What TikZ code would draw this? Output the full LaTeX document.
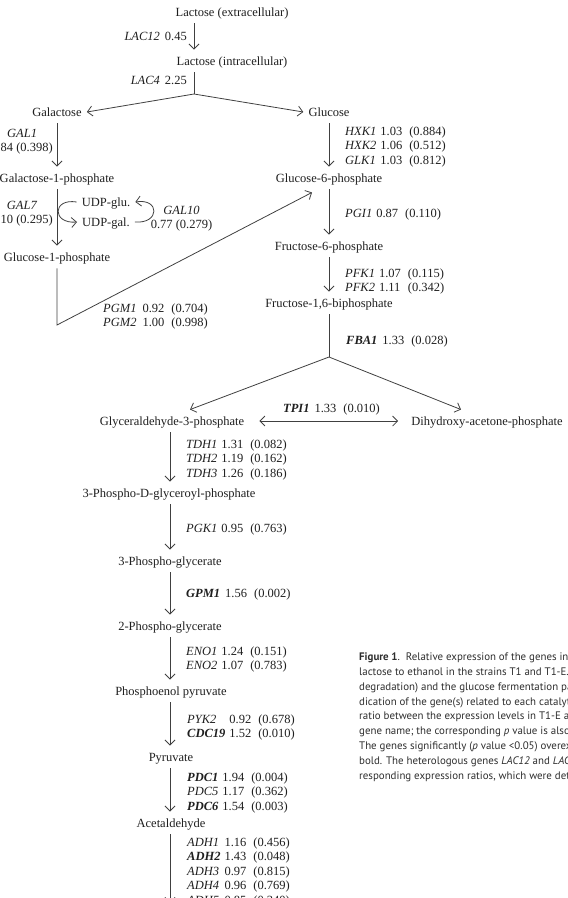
\documentclass[tikz,border=0pt]{standalone}
\usepackage{fontspec}
\setmainfont{Liberation Serif}
\newfontfamily\capfont{PT Sans}
\usetikzlibrary{arrows.meta,calc}
\newcommand{\gi}[1]{\textit{#1}}
\newcommand{\gb}[1]{\textbf{\textit{#1}}}
\begin{document}
\begin{tikzpicture}[x=1pt,y=-1pt,
  every node/.style={font=\fontsize{12.5}{14.5}\selectfont, text=black!88},
  met/.style={text height=8.5pt, text depth=0pt, inner xsep=5pt, inner ysep=7pt},
  lbl/.style={inner sep=0pt, anchor=base west},
  arr/.style={draw=black!75, line width=0.8pt, -{Straight Barb[length=5pt,width=10pt]}},
  darr/.style={draw=black!75, line width=0.8pt, {Straight Barb[length=5pt,width=10pt]}-{Straight Barb[length=5pt,width=10pt]}},
  ln/.style={draw=black!75, line width=0.8pt},
  captext/.style={inner sep=0pt, anchor=base west, align=left, text=black!82,
    font=\capfont\fontsize{10.9}{14.8}\selectfont},
]
\useasboundingbox (0,0) rectangle (568,898);
\clip (0,0) rectangle (568,898);

% metabolites
\node[met] (LacE) at (232,12) {Lactose (extracellular)};
\node[met] (LacI) at (232,61) {Lactose (intracellular)};
\node[met] (Gal) at (57,112) {Galactose};
\node[met] (Glc) at (329,112) {Glucose};
\node[met] (Gal1P) at (57,178) {Galactose-1-phosphate};
\node[met] (G6P) at (329,178) {Glucose-6-phosphate};
\node[met, inner ysep=2pt] (UDPglu) at (106,202) {UDP-glu.};
\node[met, inner ysep=2pt] (UDPgal) at (106,222) {UDP-gal.};
\node[met] (Glc1P) at (57,257) {Glucose-1-phosphate};
\node[met] (F6P) at (329,246) {Fructose-6-phosphate};
\node[met] (F16BP) at (329,303) {Fructose-1,6-biphosphate};
\node[met] (GAP) at (172,421) {Glyceraldehyde-3-phosphate};
\node[met] (DHAP) at (487,421) {Dihydroxy-acetone-phosphate};
\node[met] (PDGP) at (169,493) {3-Phospho-D-glyceroyl-phosphate};
\node[met] (PG3) at (170,561) {3-Phospho-glycerate};
\node[met] (PG2) at (170,626) {2-Phospho-glycerate};
\node[met] (PEP) at (171,691) {Phosphoenol pyruvate};
\node[met] (Pyr) at (171,757) {Pyruvate};
\node[met] (Acet) at (171,823) {Acetaldehyde};

\coordinate (br1) at (194,94);
\coordinate (pgmc) at (57,325);
\coordinate (br2) at (329,357);
\coordinate (etoh) at (170,903);

% connectors
\draw[arr] ([xshift=-38pt]LacE.south) -- ([xshift=-38pt]LacI.north);
\draw[ln] ([xshift=-38pt]LacI.south) -- (br1);
\draw[arr] (br1) -- (Gal.east);
\draw[arr] (br1) -- (Glc.west);
\draw[arr] (Gal.south) -- (Gal1P.north);
\draw[arr] (Gal1P.south) -- (Glc1P.north);
\draw[arr] (UDPglu.west) .. controls (52,198) and (52,224) .. (UDPgal.west);
\draw[arr] (UDPgal.east) .. controls (160,224) and (160,198) .. (UDPglu.east);
\draw[arr] (Glc1P.south) -- (pgmc) -- ([shift={(-17pt,-3pt)}]G6P.south);
\draw[arr] (Glc.south) -- (G6P.north);
\draw[arr] (G6P.south) -- (F6P.north);
\draw[arr] (F6P.south) -- (F16BP.north);
\draw[ln] (F16BP.south) -- (br2);
\draw[arr] (br2) -- ([xshift=18pt]GAP.north);
\draw[arr] (br2) -- ([xshift=-26pt]DHAP.north);
\draw[darr, shorten <=10pt, shorten >=8pt] (GAP.east) -- (DHAP.west);
\draw[arr] ([xshift=-2pt]GAP.south) -- ([xshift=1pt]PDGP.north);
\draw[arr] ([xshift=1pt]PDGP.south) -- (PG3.north);
\draw[arr] (PG3.south) -- (PG2.north);
\draw[arr] (PG2.south) -- ([xshift=-1pt]PEP.north);
\draw[arr] ([xshift=-1pt]PEP.south) -- ([xshift=-1pt]Pyr.north);
\draw[arr] ([xshift=-1pt]Pyr.south) -- ([xshift=-1pt]Acet.north);
\draw[arr] ([xshift=-1pt]Acet.south) -- (etoh);

% gene labels
\node[inner sep=0pt, anchor=base east] (lac12) at (187,40) {\gi{LAC12}\hspace{5pt}0.45};
\node[inner sep=0pt, anchor=base east] (lac4) at (187,84) {\gi{LAC4}\hspace{5pt}2.25};
\node[inner sep=0pt, anchor=base east] (gal1) at (53,137) {\begin{tabular}[t]{@{}c@{}}\gi{GAL1}\\ \phantom{0}.84 (0.398)\end{tabular}};
\node[inner sep=0pt, anchor=base east] (gal7) at (53,209) {\begin{tabular}[t]{@{}c@{}}\gi{GAL7}\\ \phantom{0}.10 (0.295)\end{tabular}};
\node[inner sep=0pt, anchor=base] (gal10) at (181.5,214) {\begin{tabular}[t]{@{}c@{}}\gi{GAL10}\\ 0.77 (0.279)\end{tabular}};
\node[lbl] (pgm) at (103,312) {\begin{tabular}[t]{@{}l@{\hspace{6pt}}l@{\hspace{7pt}}l@{}}\gi{PGM1} & 0.92 & (0.704)\\ \gi{PGM2} & 1.00 & (0.998)\end{tabular}};
\node[lbl] (hxk) at (345,135) {\begin{tabular}[t]{@{}l@{\hspace{4pt}}l@{\hspace{7pt}}l@{}}\gi{HXK1} & 1.03 & (0.884)\\ \gi{HXK2} & 1.06 & (0.512)\\ \gi{GLK1} & 1.03 & (0.812)\end{tabular}};
\node[lbl] (pgi) at (345,217) {\gi{PGI1}\hspace{4pt}0.87\hspace{7pt}(0.110)};
\node[lbl] (pfk) at (345,277) {\begin{tabular}[t]{@{}l@{\hspace{4pt}}l@{\hspace{7pt}}l@{}}\gi{PFK1} & 1.07 & (0.115)\\ \gi{PFK2} & 1.11 & (0.342)\end{tabular}};
\node[lbl] (fba) at (346,344) {\gb{FBA1}\hspace{5pt}1.33\hspace{7pt}(0.028)};
\node[lbl] (tpi) at (283,412) {\gb{TPI1}\hspace{5pt}1.33\hspace{7pt}(0.010)};
\node[lbl] (tdh) at (186,448) {\begin{tabular}[t]{@{}l@{\hspace{4pt}}l@{\hspace{7pt}}l@{}}\gi{TDH1} & 1.31 & (0.082)\\ \gi{TDH2} & 1.19 & (0.162)\\ \gi{TDH3} & 1.26 & (0.186)\end{tabular}};
\node[lbl] (pgk) at (186,532) {\gi{PGK1}\hspace{4pt}0.95\hspace{7pt}(0.763)};
\node[lbl] (gpm) at (186,597) {\gb{GPM1}\hspace{5pt}1.56\hspace{7pt}(0.002)};
\node[lbl] (eno) at (186,655) {\begin{tabular}[t]{@{}l@{\hspace{4pt}}l@{\hspace{7pt}}l@{}}\gi{ENO1} & 1.24 & (0.151)\\ \gi{ENO2} & 1.07 & (0.783)\end{tabular}};
\node[lbl] (pyk) at (187,723) {\begin{tabular}[t]{@{}l@{\hspace{4pt}}l@{\hspace{7pt}}l@{}}\gi{PYK2} & 0.92 & (0.678)\\ \gb{CDC19} & 1.52 & (0.010)\end{tabular}};
\node[lbl] (pdc) at (187,781) {\begin{tabular}[t]{@{}l@{\hspace{4pt}}l@{\hspace{7pt}}l@{}}\gb{PDC1} & 1.94 & (0.004)\\ \gi{PDC5} & 1.17 & (0.362)\\ \gb{PDC6} & 1.54 & (0.003)\end{tabular}};
\node[lbl] (adh) at (187,846) {\begin{tabular}[t]{@{}l@{\hspace{4pt}}l@{\hspace{7pt}}l@{}}\gi{ADH1} & 1.16 & (0.456)\\ \gb{ADH2} & 1.43 & (0.048)\\ \gi{ADH3} & 0.97 & (0.815)\\ \gi{ADH4} & 0.96 & (0.769)\\ \gi{ADH5} & 0.85 & (0.340)\end{tabular}};

% caption
\node[captext] (cap) at (359,779) {\textbf{Figure 1}.\ \ Relative expression of the genes involved in the\\
lactose to ethanol in the strains T1 and T1-E. The\\
degradation) and the glucose fermentation pathway\\
dication of the gene(s) related to each catalytic\\
ratio between the expression levels in T1-E and\\
gene name; the corresponding \textit{p} value is also\\
The genes significantly (\textit{p} value <0.05) overexpressed\\
bold. The heterologous genes \textit{LAC12} and \textit{LAC4}\\
responding expression ratios, which were determined};
\end{tikzpicture}
\end{document}
